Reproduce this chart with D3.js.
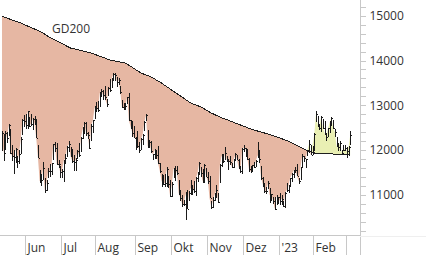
<!DOCTYPE html>
<html>
<head>
<meta charset="utf-8">
<script src="https://cdn.jsdelivr.net/npm/d3@7"></script>
<style>
  body { margin: 0; background: #fff; }
  text { font-family: "Open Sans", sans-serif; }
</style>
</head>
<body>
<div id="chart"></div>
<script>
// daily bars, 11 May 2022 .. 3 Mar 2023 (one line per month)
var opens = [
  12100,12280,12060,12330,12480,12430,11820,11980,11900,11830,11720,11950,12370,12630,
  12720,12560,12700,12700,12480,12660,12560,12080,11500,11370,11430,11350,11160,11390,11420,11590,11800,12160,12060,11680,11530,
  11480,11390,11770,11860,11980,12050,11880,11570,11610,11880,12060,11990,12280,12440,12580,12370,12230,12230,12550,12720,
  12890,12880,12990,13260,13190,13330,13130,13300,13490,13420,13560,13660,13550,13510,13430,13080,12960,12920,13050,13170,12560,12600,12480,
  12160,12360,12150,12030,12190,12450,12660,12420,12130,12130,11800,11830,11900,11920,11640,11450,11290,11400,11270,11420,11180,
  11040,11410,11400,11540,11300,11070,10880,10810,10530,11080,10890,11300,11060,11130,11040,11380,11470,11420,11550,11300,11570,
  11500,11270,10830,10840,10910,11040,11020,11310,11690,11800,11970,11840,11580,11860,11690,11640,11770,11860,11730,11620,11530,
  12050,11880,11950,11790,11540,11610,11610,11640,12110,11880,11610,11350,11250,11060,11150,11140,10950,10950,10860,10790,10830,
  11030,10930,10860,10810,11090,11090,11230,11400,11390,11540,11610,11350,11360,11640,11810,11690,11930,11950,12050,11900,
  12090,12650,12620,12500,12450,12680,12630,12330,12320,12430,12550,12580,12450,12270,12090,12170,11990,12070,11990,
  12030,11890,12130
];
var highs = [
  12430,12350,12420,12400,12580,12470,12110,12010,12050,11860,11990,12290,12690,12790,
  12810,12880,12740,12800,12720,12760,12700,12120,11560,11460,11740,11370,11330,11600,11680,11720,12140,12180,12150,11770,11650,
  11580,11770,11900,12080,12200,12070,12020,11880,11820,11990,12150,12290,12520,12620,12620,12410,12250,12570,12680,12980,
  13070,13090,13300,13360,13340,13440,13140,13400,13580,13610,13720,13730,13640,13620,13440,13110,13040,13060,13190,13270,12660,12640,12530,
  12280,12420,12170,12270,12360,12640,12800,12440,12230,12210,11920,12020,11970,12100,11720,11470,11450,11460,11610,11430,11340,
  11280,11590,11640,11650,11320,11110,10990,10890,11060,11110,11080,11320,11210,11310,11390,11500,11740,11610,11580,11680,11600,
  11510,11410,10870,10950,11030,11220,11040,11680,11910,11910,12060,11860,11800,11870,11720,11790,11930,11880,11800,11650,12040,
  12110,12040,12020,11820,11640,11670,11730,11770,12170,12010,11640,11390,11270,11170,11310,11150,11020,10960,10950,10990,10960,
  11050,10990,10870,11070,11270,11210,11380,11480,11560,11620,11690,11380,11630,11900,11860,11810,12000,12220,12110,12100,
  12370,12880,12760,12560,12760,12690,12650,12370,12500,12650,12730,12660,12460,12290,12150,12210,12010,12120,12110,
  12070,12090,12420
];
var lows = [
  11980,11760,12010,12150,12320,11900,11750,11470,11720,11600,11680,11920,12340,12520,
  12480,12460,12510,12530,12450,12550,12260,11820,11260,11200,11330,11040,11090,11380,11410,11450,11790,11950,11670,11590,11370,
  11380,11280,11690,11840,11960,11840,11720,11530,11520,11800,11850,11960,12250,12350,12310,12250,12030,12200,12380,12700,
  12850,12840,12980,13190,13110,13120,12960,13210,13300,13380,13540,13540,13400,13460,13260,12940,12890,12890,13020,12640,12470,12300,12260,
  12000,12050,11930,12010,12120,12440,12650,12050,12040,11930,11770,11790,11790,11690,11480,11170,11220,11170,11180,11140,10960,
  10940,11380,11300,11440,10990,10850,10720,10740,10440,10680,10880,10990,10990,11050,10980,11280,11460,11400,11270,11270,11400,
  11240,10920,10680,10700,10850,10930,10820,11270,11620,11720,11780,11730,11560,11660,11600,11590,11750,11770,11580,11480,11470,
  11960,11850,11770,11510,11480,11530,11590,11610,11830,11720,11340,11180,11040,11020,11140,10810,10870,10800,10670,10780,10800,
  10760,10780,10720,10700,11080,11040,11200,11290,11380,11480,11410,11250,11330,11630,11740,11590,11860,11940,11880,11880,
  11970,12620,12520,12440,12400,12480,12330,12200,12290,12380,12530,12460,12280,12070,11980,11970,11890,11980,11970,
  11820,11880,12130
];
var closes = [
  12370,11930,12390,12260,12560,11930,11870,11840,12030,11750,11920,12250,12680,12640,
  12550,12870,12540,12590,12690,12600,12270,11830,11300,11330,11600,11100,11260,11540,11520,11700,12140,12040,11680,11680,11500,
  11530,11760,11820,12070,12130,11860,11750,11740,11770,11970,11880,12270,12450,12600,12390,12330,12050,12540,12660,12950,
  12940,12900,13270,13320,13220,13180,13020,13390,13330,13600,13700,13680,13530,13560,13290,12950,12940,12990,13190,12660,12520,12380,12270,
  12270,12100,12010,12250,12340,12620,12780,12080,12180,11970,11900,12000,11890,11700,11530,11310,11250,11270,11580,11240,10970,
  11230,11580,11560,11480,11040,10930,10800,10790,11030,10690,11050,11150,11120,11090,11370,11480,11720,11480,11290,11660,11400,
  11300,10920,10720,10880,11010,11100,10830,11660,11870,11760,11930,11780,11760,11730,11620,11780,11900,11780,11610,11520,12030,
  12050,12020,11810,11570,11520,11660,11610,11760,11880,11790,11380,11240,11090,11090,11260,10990,11010,10860,10680,10960,10940,
  10860,10910,10740,11040,11110,11200,11380,11460,11540,11560,11410,11300,11620,11870,11830,11800,12000,12140,11890,12100,
  12350,12800,12570,12490,12730,12500,12380,12300,12490,12620,12720,12490,12400,12080,12060,12150,11940,12000,12040,
  11980,12070,12340
];
// 200 day moving average
var gd200 = [
  14990,14975,14962,14948,14934,14920,14906,14892,14878,14864,14851,14838,
  14821,14804,14787,14770,14753,14736,14720,14703,14686,14670,14653,14637,
  14612,14588,14563,14539,14515,
  14495,14476,14456,14436,14417,14397,14377,14358,14338,14318,14299,14279,
  14270,14261,14251,14242,14233,14224,14214,14205,14196,14187,14177,14168,
  14154,14140,14125,14111,14097,14083,14068,14054,14040,14025,14011,
  14004,13996,13989,13981,13974,13966,13959,13951,13944,
  13919,13894,13870,13845,13820,13795,13770,13746,13721,
  13706,13691,13676,13661,13646,13631,
  13609,13587,13564,13542,13519,13497,
  13470,13443,13417,13390,13363,
  13337,13311,13285,13259,13233,13207,
  13181,13155,13129,13102,13076,13050,
  13035,13020,13005,12991,12976,12961,
  12939,12916,12894,12872,12849,12827,
  12809,12791,12773,12755,12737,
  12722,12707,12692,12678,12663,12648,
  12633,12618,12603,12589,12574,12559,
  12544,12529,12514,12499,12484,12469,
  12458,12447,12436,12424,12413,12402,12391,12380,12369,12357,12346,12335,
  12322,12308,12295,12281,12268,
  12253,12238,12223,12209,12194,12179,
  12159,12139,12119,12099,12080,12060,12040,12020,12000,
  11987,11973,11960,11946,11933,
  11931,11929,11927,11925,11923,11921,11919,11916,11914,11912,11910,
  11908,11906,11903,11901,11899,11897,11895,11893,11890,11888
];

// month starts (bar index) and labels on the time axis
var monthStarts = [14, 35, 55, 78, 99, 120, 141, 162, 182, 201];
var monthLabels = ["Jun", "Jul", "Aug", "Sep", "Okt", "Nov", "Dez", "'23", "Feb", ""];
var yLabelTicks = [11000, 12000, 13000, 14000, 15000];
var yMinorTicks = [10200,10400,10600,10800,11000,11200,11400,11600,11800,12000,12200,12400,12600,12800,
                   13000,13200,13400,13600,13800,14000,14200,14400,14600,14800,15000,15200];

var W = 426, H = 255;
var plotRight = 360, plotBottom = 235;

var svg = d3.select("#chart").append("svg")
    .attr("width", W)
    .attr("height", H);

var x = d3.scaleLinear().domain([0, closes.length - 1]).range([1.9, 350.3]);
var y = d3.scaleLinear().domain([11000, 15000]).range([194.75, 15.75]);

var idx = d3.range(closes.length);

var defs = svg.append("defs");
defs.append("clipPath").attr("id", "above")
  .append("path")
    .attr("d", d3.area().x(function (i) { return x(i); }).y0(0).y1(function (i) { return y(gd200[i]); })(idx));
defs.append("clipPath").attr("id", "below")
  .append("path")
    .attr("d", d3.area().x(function (i) { return x(i); }).y0(plotBottom).y1(function (i) { return y(gd200[i]); })(idx));

var band = d3.area()
    .x(function (i) { return x(i); })
    .y0(function (i) { return y(gd200[i]); })
    .y1(function (i) { return y(closes[i]); });

// price under the average: salmon, above: pale yellow
svg.append("path")
    .attr("clip-path", "url(#below)")
    .attr("d", band(idx))
    .attr("fill", "#e6b7a3");
svg.append("path")
    .attr("clip-path", "url(#above)")
    .attr("d", band(idx))
    .attr("fill", "#e9efb3");

// GD200 line
svg.append("path")
    .attr("d", d3.line().x(function (i) { return x(i); }).y(function (i) { return y(gd200[i]); })(idx))
    .attr("fill", "none")
    .attr("stroke", "#1e1e1e")
    .attr("stroke-width", 1)
    .attr("shape-rendering", "crispEdges");

// OHLC bars
svg.append("g")
    .attr("stroke", "#1a1a1a")
    .attr("stroke-width", 1)
    .attr("shape-rendering", "crispEdges")
  .selectAll("path")
  .data(idx)
  .enter().append("path")
    .attr("d", function (i) {
        var px = Math.round(x(i)) + 0.5;
        return "M" + px + "," + y(highs[i]) + "V" + y(lows[i]) +
               "M" + (px - 1) + "," + Math.round(y(opens[i])) + "H" + px +
               "M" + px + "," + Math.round(y(closes[i])) + "H" + (px + 1);
    });

svg.append("text")
    .attr("x", 52)
    .attr("y", 33)
    .attr("font-size", "12px")
    .attr("fill", "#333")
    .text("GD200");

// right value axis
var yAxis = d3.axisRight(y)
    .tickValues(yMinorTicks)
    .tickSize(5)
    .tickPadding(4)
    .tickFormat(function (d) { return yLabelTicks.indexOf(d) >= 0 ? d : ""; });

var ga = svg.append("g")
    .attr("transform", "translate(" + (plotRight + 0.5) + ",0)")
    .call(yAxis);
ga.select(".domain").remove();
ga.selectAll("line").attr("stroke", "#c8c8c8").attr("shape-rendering", "crispEdges");
ga.selectAll("text")
    .attr("font-size", "12px")
    .attr("font-family", "Open Sans, sans-serif")
    .attr("fill", "#333");

svg.append("line")
    .attr("x1", plotRight + 0.5).attr("x2", plotRight + 0.5)
    .attr("y1", 0).attr("y2", H)
    .attr("stroke", "#c8c8c8");

// time axis
svg.append("line")
    .attr("x1", 0).attr("x2", plotRight)
    .attr("y1", plotBottom + 0.5).attr("y2", plotBottom + 0.5)
    .attr("stroke", "#c8c8c8");
svg.append("line")
    .attr("x1", plotRight).attr("x2", W)
    .attr("y1", plotBottom + 1.5).attr("y2", plotBottom + 1.5)
    .attr("stroke", "#efefef");

var months = svg.append("g").selectAll("g")
    .data(monthStarts)
    .enter().append("g");
months.append("line")
    .attr("x1", function (d) { return Math.round(x(d) - 0.86) + 0.5; })
    .attr("x2", function (d) { return Math.round(x(d) - 0.86) + 0.5; })
    .attr("y1", plotBottom).attr("y2", H)
    .attr("stroke", "#c8c8c8");
months.append("text")
    .attr("x", function (d) { return Math.round(x(d) - 0.86) + 2.5; })
    .attr("y", 252)
    .attr("font-size", "12px")
    .attr("fill", "#333")
    .text(function (d, i) { return monthLabels[i]; });
</script>
</body>
</html>
